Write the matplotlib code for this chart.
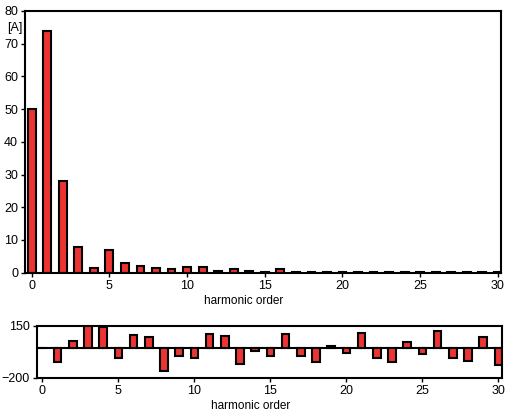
import numpy as np
import matplotlib
matplotlib.use("Agg")
import matplotlib.pyplot as plt

plt.rcParams["font.family"] = ["Liberation Sans", "DejaVu Sans"]
plt.rcParams["font.size"] = 8.5

# harmonic orders 0..30
orders = np.arange(0, 31)
# amplitude [A]
amplitude = [50, 74, 28, 7.8, 1.3, 7, 3, 2, 1.4, 1, 1.6, 1.6, 0.4, 1, 0.4, 0.3,
             1, 0.3, 0.3, 0.3, 0.3, 0.3, 0.3, 0.3, 0.3, 0.3, 0.3, 0.3, 0.3, 0.3, 0.3]
# phase
phase = [0, -92, 49, 155, 143, -69, 90, 72, -152, -56, -65, 96, 78, -108, -22, -56,
         96, -54, -96, 11, -36, 103, -69, -92, 43, -43, 116, -69, -85, 72, -116]

red = "#ee3333"

fig = plt.figure(figsize=(5.09, 4.12), dpi=100)

# top: amplitude spectrum
ax1 = fig.add_axes([25 / 509, 1 - 272.7 / 412, 476 / 509, 261.7 / 412])
ax1.bar(orders, amplitude, width=0.5, color=red, edgecolor="black", linewidth=1.5)
ax1.set_xlim(-0.43, 30.2)
ax1.set_ylim(0, 80)
ax1.set_xticks([0, 5, 10, 15, 20, 25, 30])
ax1.set_yticks(range(0, 81, 10))
ax1.tick_params(direction="out", length=3, width=1, pad=2, labelsize=9)
for s in ax1.spines.values():
    s.set_linewidth(1.5)
fig.text(7 / 509, 1 - 28 / 412, "[A]", ha="left", va="center", fontsize=9)
ax1.set_xlabel("harmonic order", labelpad=0)
ax1.xaxis.set_label_coords(0.46, -0.085)

# bottom: phase
ax2 = fig.add_axes([36.7 / 509, 1 - 377.7 / 412, 465 / 509, 52 / 412])
ax2.bar(orders, phase, width=0.5, color=red, edgecolor="black", linewidth=1.5)
ax2.axhline(0, color="black", linewidth=1.5, zorder=0)
ax2.set_xlim(-0.37, 30.22)
ax2.set_ylim(-200, 150)
ax2.set_xticks([0, 5, 10, 15, 20, 25, 30])
ax2.set_yticks([-200, 150])
ax2.tick_params(direction="out", length=3, width=1, pad=2, labelsize=9)
for s in ax2.spines.values():
    s.set_linewidth(1.5)
ax2.set_xlabel("harmonic order", labelpad=0)
ax2.xaxis.set_label_coords(0.46, -0.42)

fig.savefig("out.png", dpi=100)
